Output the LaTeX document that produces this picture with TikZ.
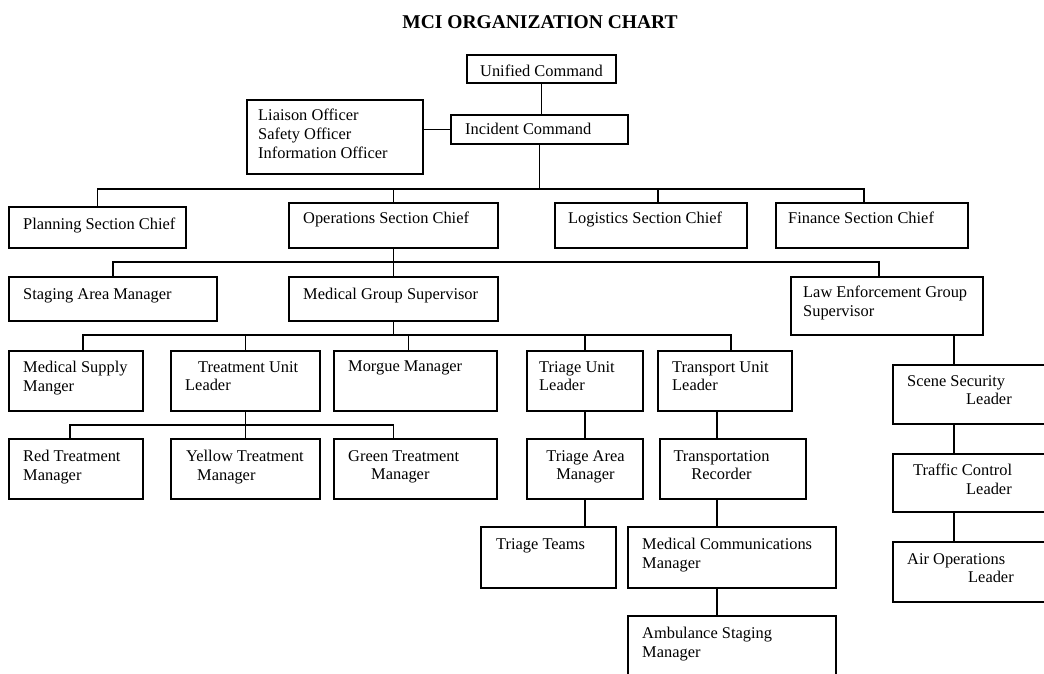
\documentclass[tikz,border=0pt]{standalone}
\usepackage{fontspec}
\setmainfont{Liberation Serif}
\usepackage{tikz}
\usetikzlibrary{fit}
\tikzstyle{orgbox} = [draw, line width = 1.7pt, inner sep = 0]
\tikzstyle{orgtext} = [anchor = north west, inner sep = 0, align = left]
\tikzstyle{orgline} = [-, line width = 1.7pt]

\begin{document}
\begin{tikzpicture}[x = 1pt, y = -1pt, font = \fontsize{16.4}{18.8}\selectfont]
\useasboundingbox (0, 0) rectangle (1044, 673);
\clip (0, 0) rectangle (1044, 673);
\node [anchor = base, inner sep = 0, font = \bfseries\fontsize{19.5}{22}\selectfont] (title) at (540, 28) {MCI ORGANIZATION CHART};

% command
\node [orgbox, fit = {(467, 55) (616, 83)}] (uc) {};
\node [orgbox, fit = {(247, 100) (423, 174)}] (liaison) {};
\node [orgbox, fit = {(451, 115) (628, 144)}] (inc) {};
\node [orgtext] (ucT) at (480, 65) {Unified Command};
\node [orgtext] (liaisonT) at (258, 109) {Liaison Officer\\Safety Officer\\Information Officer};
\node [orgtext] (incT) at (465, 123) {Incident Command};

% sections
\node [orgbox, fit = {(9, 207) (186, 248)}] (plan) {};
\node [orgbox, fit = {(289, 203) (498, 248)}] (ops) {};
\node [orgbox, fit = {(555, 203) (747, 248)}] (log) {};
\node [orgbox, fit = {(776, 203) (968, 248)}] (fin) {};
\node [orgtext] (planT) at (23, 218) {Planning Section Chief};
\node [orgtext] (opsT) at (303, 212) {Operations Section Chief};
\node [orgtext] (logT) at (568, 212) {Logistics Section Chief};
\node [orgtext] (finT) at (788, 212) {Finance Section Chief};

% groups
\node [orgbox, fit = {(9, 277) (217, 321)}] (stag) {};
\node [orgbox, fit = {(289, 277) (498, 321)}] (mgs) {};
\node [orgbox, fit = {(791, 277) (983, 335)}] (law) {};
\node [orgtext] (stagT) at (23, 288) {Staging Area Manager};
\node [orgtext] (mgsT) at (303, 288) {Medical Group Supervisor};
\node [orgtext] (lawT) at (803, 286) {Law Enforcement Group\\Supervisor};

% units
\node [orgbox, fit = {(9, 351) (143, 411)}] (msup) {};
\node [orgbox, fit = {(171, 351) (320, 411)}] (tul) {};
\node [orgbox, fit = {(334, 351) (497, 411)}] (morg) {};
\node [orgbox, fit = {(527, 351) (643, 411)}] (triu) {};
\node [orgbox, fit = {(658, 351) (792, 411)}] (tran) {};
\node [orgtext] (msupT) at (23, 361) {Medical Supply\\Manger};
\node [orgtext] (tulT) at (185, 361) {\hspace*{13pt}Treatment Unit\\Leader};
\node [orgtext] (morgT) at (348, 361) {Morgue Manager};
\node [orgtext] (triuT) at (539, 361) {Triage Unit\\Leader};
\node [orgtext] (tranT) at (672, 361) {Transport Unit\\Leader};

\node [orgbox, fit = {(9, 439) (143, 499)}] (red) {};
\node [orgbox, fit = {(171, 439) (320, 499)}] (yel) {};
\node [orgbox, fit = {(334, 439) (497, 499)}] (grn) {};
\node [orgbox, fit = {(527, 439) (643, 499)}] (tam) {};
\node [orgbox, fit = {(660, 439) (806, 499)}] (trec) {};
\node [orgtext] (redT) at (23, 450) {Red Treatment\\Manager};
\node [orgtext] (yelT) at (186, 450) {Yellow Treatment\\\hspace*{11pt}Manager};
\node [orgtext] (grnT) at (348, 450) {Green Treatment\\\hspace*{23pt}Manager};
\node [orgtext, anchor = north, align = center] (tamT) at (585.5, 450) {Triage Area\\Manager};
\node [orgtext, anchor = north, align = center] (trecT) at (721.5, 450) {Transportation\\Recorder};

\node [orgbox, fit = {(481, 527) (616, 588)}] (team) {};
\node [orgbox, fit = {(628, 527) (836, 588)}] (mcm) {};
\node [orgbox, fit = {(628, 616) (836, 690)}] (amb) {};
\node [orgtext] (teamT) at (496, 538) {Triage Teams};
\node [orgtext] (mcmT) at (642, 538) {Medical Communications\\Manager};
\node [orgtext] (ambT) at (642, 627) {Ambulance Staging\\Manager};

% law enforcement branch
\node [orgbox, fit = {(893, 365) (1050, 424)}] (scene) {};
\node [orgbox, fit = {(893, 454) (1050, 512)}] (traf) {};
\node [orgbox, fit = {(893, 542) (1050, 602)}] (air) {};
\node [orgtext] (sceneT) at (907, 375) {Scene Security\\\hspace*{59pt}Leader};
\node [orgtext] (trafT) at (913, 464) {Traffic Control\\\hspace*{53pt}Leader};
\node [orgtext] (airT) at (907, 553) {Air Operations\\\hspace*{61pt}Leader};

% junctions
\coordinate (j1) at (540, 189);
\coordinate (j2) at (393.5, 262);
\coordinate (j3) at (393.5, 335);
\coordinate (j4) at (246, 425);

\draw [orgline] (uc.south) -- (uc.south |- inc.north);
\draw [orgline] (inc.west) -- (inc.west -| liaison.east);
\draw [orgline] (inc.south) -- (inc.south |- j1);
\draw [orgline] (plan.north) |- (j1) -| ([xshift = -8pt]fin.north);
\draw [orgline] (ops.north) -- (ops.north |- j1);
\draw [orgline] ([xshift = 7pt]log.north) |- (j1);
\draw [orgline] (ops) -- (mgs);
\draw [orgline] (stag.north) |- (j2) -| ([xshift = -8pt]law.north);
\draw [orgline] (mgs.south) -- (mgs.south |- j3);
\draw [orgline] ([xshift = 7pt]msup.north) |- (j3) -| ([xshift = 6pt]tran.north);
\draw [orgline] (tul.north) -- (tul.north |- j3);
\draw [orgline] ([xshift = -7pt]morg.north) |- (j3);
\draw [orgline] (triu.north) -- (triu.north |- j3);
\draw [orgline] (tul) -- (yel);
\draw [orgline] ([xshift = -6pt]red.north) |- (j4) -| ([xshift = -22pt]grn.north);
\draw [orgline] (triu) -- (tam);
\draw [orgline] (tam.south) -- (tam.south |- team.north);
\draw [orgline] ([xshift = -8pt]tran.south) -- ([xshift = -16pt]trec.north);
\draw [orgline] ([xshift = -16pt]trec.south) -- ([xshift = -15pt]mcm.north);
\draw [orgline] ([xshift = -15pt]mcm.south) -- ([xshift = -15pt]amb.north);
\draw [orgline] ([xshift = 67pt]law.south) -- ([xshift = -17.5pt]scene.north);
\draw [orgline] ([xshift = -17.5pt]scene.south) -- ([xshift = -17.5pt]traf.north);
\draw [orgline] ([xshift = -17.5pt]traf.south) -- ([xshift = -17.5pt]air.north);
\end{tikzpicture}
\end{document}
